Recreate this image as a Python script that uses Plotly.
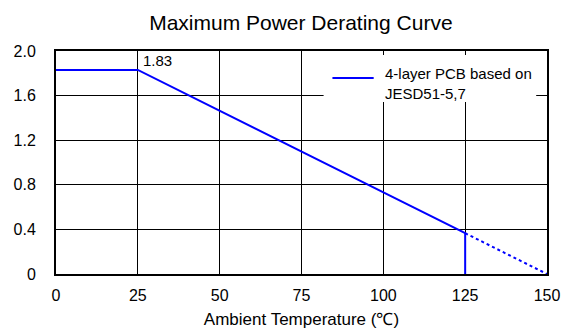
import plotly.graph_objects as go

# Data
temp_solid = [0, 25, 125, 125]
power_solid = [1.83, 1.83, 0.366, 0]
temp_dotted = [125, 150]
power_dotted = [0.366, 0]
x_ticks = [0, 25, 50, 75, 100, 125, 150]
y_ticks = [0, 0.4, 0.8, 1.2, 1.6, 2.0]
y_tick_labels = ["0", "0.4", "0.8", "1.2", "1.6", "2.0"]
legend_lines = ["4-layer PCB based on", "JESD51-5,7"]
peak_label = "1.83"

font_family = "Liberation Sans, Arial, sans-serif"
blue = "#0000ff"

fig = go.Figure()
fig.add_trace(go.Scatter(x=temp_solid, y=power_solid, mode="lines",
                         line=dict(color=blue, width=2),
                         name=" ".join(legend_lines), showlegend=False))
fig.add_trace(go.Scatter(x=temp_dotted, y=power_dotted, mode="lines",
                         line=dict(color=blue, width=2, dash="dot"),
                         showlegend=False))

fig.add_annotation(x=25, y=1.83, text=peak_label, xanchor="left", yanchor="bottom",
                   showarrow=False, xshift=3, yshift=-1,
                   font=dict(size=15, color="black", family=font_family))

# Legend box (manual, to match the reference's long sample line)
fig.add_shape(type="rect", xref="paper", yref="paper", x0=0.545, x1=0.978,
              y0=0.771, y1=0.982, fillcolor="white", line=dict(width=0), layer="above")
fig.add_shape(type="line", xref="paper", yref="paper", x0=0.563, x1=0.647,
              y0=0.879, y1=0.879, line=dict(color=blue, width=2), layer="above")
fig.add_annotation(xref="paper", yref="paper", x=0.665, y=0.855,
                   text="<br>".join(legend_lines), align="left",
                   xanchor="left", yanchor="middle", showarrow=False,
                   font=dict(size=15, color="black", family=font_family))

fig.update_layout(
    width=572, height=335,
    margin=dict(l=56, r=25, t=51, b=61, autoexpand=False),
    paper_bgcolor="white", plot_bgcolor="white",
    title=dict(text="Maximum Power Derating Curve", x=0.526, xanchor="center",
               y=0.932, yanchor="middle",
               font=dict(size=21, color="black", family=font_family)),
    font=dict(family=font_family, color="black", size=16),
    showlegend=False,
    xaxis=dict(range=[0, 150], tickvals=x_ticks, showgrid=True, gridcolor="black",
               gridwidth=1, showline=True, linecolor="black", linewidth=2, mirror=True,
               zeroline=False, ticks="", ticklabelstandoff=6, automargin=False,
               title=dict(text="Ambient Temperature (℃)", font=dict(size=17), standoff=10),
               tickfont=dict(size=16)),
    yaxis=dict(range=[0, 2.0], tickvals=y_ticks, ticktext=y_tick_labels, showgrid=True,
               gridcolor="black", gridwidth=1, showline=True, linecolor="black",
               linewidth=2, mirror=True, zeroline=False, ticks="", ticklabelstandoff=15,
               automargin=False, tickfont=dict(size=16)),
)

fig.write_html("out.html")
